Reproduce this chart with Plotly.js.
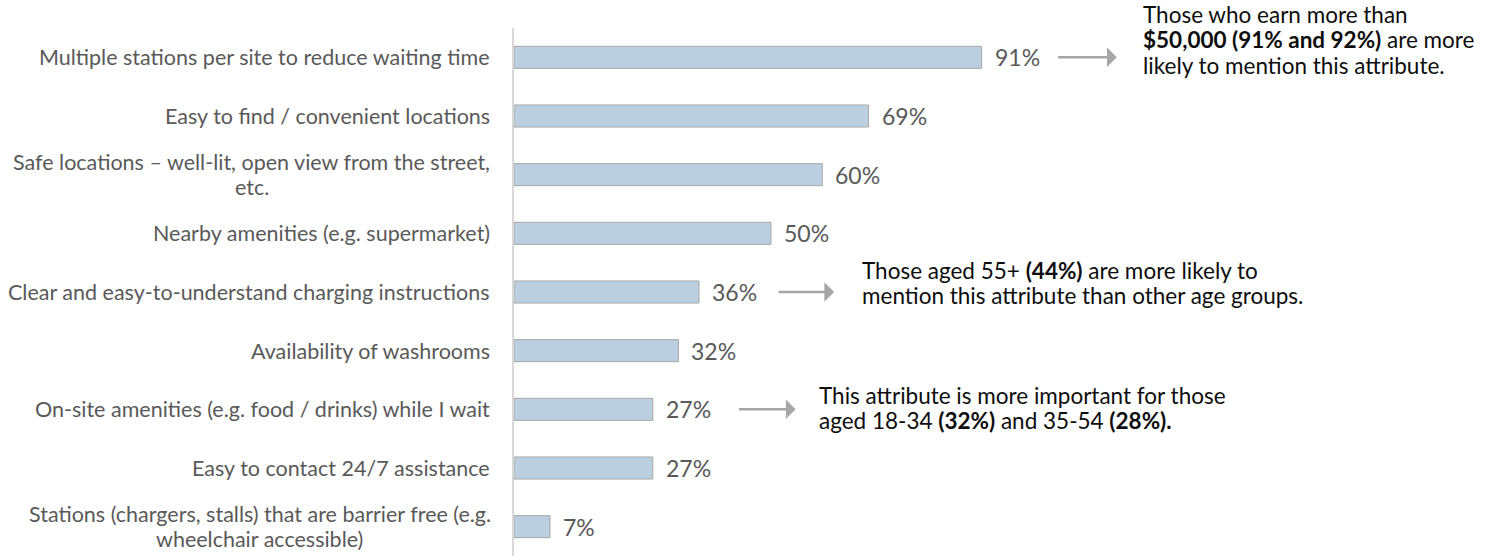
<!DOCTYPE html>
<html>
<head>
<meta charset="utf-8">
<script src="https://cdn.plot.ly/plotly-3.0.1.min.js"></script>
<style>
  html, body { margin: 0; padding: 0; background: #ffffff; }
  #chart { width: 1495px; height: 556px; }
</style>
</head>
<body>
<div id="chart"></div>
<script>
// ---- Data ----
const categories = [
  "Multiple stations per site to reduce waiting time",
  "Easy to find / convenient locations",
  "Safe locations – well-lit, open view from the street,<br>etc.",
  "Nearby amenities (e.g. supermarket)",
  "Clear and easy-to-understand charging instructions",
  "Availability of washrooms",
  "On-site amenities (e.g. food / drinks) while I wait",
  "Easy to contact 24/7 assistance",
  "Stations (chargers, stalls) that are barrier free (e.g.<br>wheelchair accessible)"
];
const values = [91, 69, 60, 50, 36, 32, 27, 27, 7];
const valueLabels = ["91%", "69%", "60%", "50%", "36%", "32%", "27%", "27%", "7%"];

const noteTexts = [
  "Those who earn more than<br><b>$50,000 (91% and 92%)</b> are more<br>likely to mention this attribute.",
  "Those aged 55+ <b>(44%)</b> are more likely to<br>mention this attribute than other age groups.",
  "This attribute is more important for those<br>aged 18-34 <b>(32%)</b> and 35-54 <b>(28%).</b>"
];
const noteCategoryIndex = [0, 4, 6];

// ---- Styles / layout ----
const FONT = "Lato";
const labelColor = "#595959";
const CAT_SIZE = 21.5;
const VAL_SIZE = 23;
const NOTE_SIZE = 22.5;
const LINE_H = 25;

const M_T = 28, PLOT_H = 528;
function pyToPaper(py) { return 1 - (py - M_T) / PLOT_H; }

const canvas = document.createElement("canvas");
const ctx = canvas.getContext("2d");
function textWidth(s, size) {
  ctx.font = size + "px " + FONT;
  return ctx.measureText(s).width;
}

const trace = {
  type: "bar",
  orientation: "h",
  y: categories,
  x: values,
  width: 0.375,
  marker: { color: "#bccfe1", line: { color: "#a6a6a6", width: 1 } },
  hoverinfo: "skip"
};

const annotations = [];

// category labels: right-aligned block, lines centered within it
categories.forEach((c) => {
  const lines = c.split("<br>");
  const n = lines.length;
  if (n === 1) {
    annotations.push({
      x: 0, xref: "x", y: c, yref: "y",
      xanchor: "right", yanchor: "middle", xshift: -22,
      showarrow: false, text: c,
      font: { family: FONT, size: CAT_SIZE, color: labelColor }
    });
  } else {
    const maxW = Math.max(...lines.map(l => textWidth(l, CAT_SIZE)));
    lines.forEach((l, k) => {
      annotations.push({
        x: 0, xref: "x", y: c, yref: "y",
        xanchor: "center", yanchor: "middle",
        xshift: -23 - maxW / 2,
        yshift: -(k - (n - 1) / 2) * LINE_H,
        showarrow: false, text: l,
        font: { family: FONT, size: CAT_SIZE, color: labelColor }
      });
    });
  }
});

// value labels
values.forEach((v, i) => {
  annotations.push({
    x: v, xref: "x", y: categories[i], yref: "y",
    xanchor: "left", yanchor: "middle", xshift: 11,
    showarrow: false, text: valueLabels[i],
    font: { family: FONT, size: VAL_SIZE, color: labelColor }
  });
});

// arrows (tail -> tip, in x data units)
const arrowTail = [105.6, 51.2, 43.5];
const arrowTip = [117.3, 62.3, 54.8];
noteCategoryIndex.forEach((ci, k) => {
  annotations.push({
    x: arrowTip[k], y: categories[ci], xref: "x", yref: "y",
    ax: arrowTail[k], ay: categories[ci], axref: "x", ayref: "y",
    text: "", showarrow: true,
    arrowhead: 1, arrowsize: 1.3, arrowwidth: 2.5, arrowcolor: "#a6a6a6",
    standoff: 0, startstandoff: 0
  });
});

// note texts, one annotation per line (tight line spacing)
const noteX = [122.0, 67.3, 59.0];
const noteFirstLineY = [15, 270, 395];
noteTexts.forEach((t, k) => {
  t.split("<br>").forEach((line, j) => {
    annotations.push({
      x: noteX[k], xref: "x", y: pyToPaper(noteFirstLineY[k] + j * LINE_H), yref: "paper",
      xanchor: "left", yanchor: "middle", align: "left",
      showarrow: false, text: line,
      font: { family: FONT, size: NOTE_SIZE, color: "#0d0d0d" }
    });
  });
});

const layout = {
  width: 1495,
  height: 556,
  margin: { l: 514, r: 0, t: M_T, b: 0, pad: 0 },
  paper_bgcolor: "#ffffff",
  plot_bgcolor: "#ffffff",
  showlegend: false,
  xaxis: {
    range: [0, 190.9],
    visible: false,
    showgrid: false,
    zeroline: false,
    fixedrange: true
  },
  yaxis: {
    type: "category",
    range: [8.5, -0.5],
    showticklabels: false,
    ticks: "",
    showgrid: false,
    zeroline: false,
    showline: true,
    linecolor: "#d9d9d9",
    linewidth: 2,
    fixedrange: true
  },
  annotations: annotations,
  font: { family: FONT }
};

Plotly.newPlot("chart", [trace], layout, { displayModeBar: false, staticPlot: true });
</script>
</body>
</html>
